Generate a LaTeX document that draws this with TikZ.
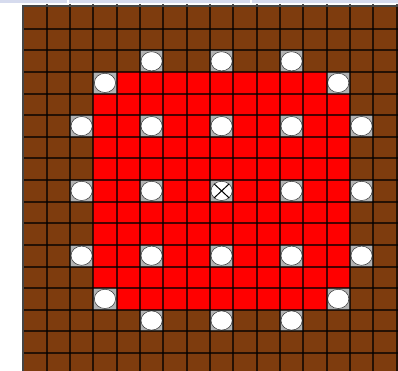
\documentclass[tikz,border=0pt]{standalone}
\usepackage{xcolor}
\definecolor{dirt}{RGB}{126,60,14}
\definecolor{barblue}{RGB}{214,219,238}
\definecolor{edge}{RGB}{70,70,70}

\begin{document}
\begin{tikzpicture}[x=1pt,y=-1pt,
        gridline/.style={draw=black,line width=2pt,opacity=0.7},
        holebg/.style={fill=gray!60},
        hole/.style={draw=black!80,line width=0.5pt,fill=white}]
        \useasboundingbox (0,0) rectangle (398,371);
        \fill[white] (0,0) rectangle (398,371);
        % strip above the board
        \fill[barblue] (0,0) rectangle (398,3.4);
        \fill[white] (67.3,0) rectangle (69,3.4);
        \fill[white] (250.2,0) rectangle (252,3.4);
        \begin{scope}
            \clip (22,5) rectangle (398,371);
            \begin{scope}[x=23.33pt,y=-21.6pt,shift={(23.3pt,-7.3pt)}]
                \fill[dirt] (0,0) rectangle (17,17);
                \fill[red] (3,3) rectangle (14,14);
                % holes
                \foreach \c/\r in {5/2,8/2,11/2,3/3,13/3,2/5,5/5,8/5,11/5,14/5,
                                   2/8,5/8,8/8,11/8,14/8,2/11,5/11,8/11,11/11,14/11,
                                   3/13,13/13,5/14,8/14,11/14} {
                    \fill[holebg] (\c,\r) rectangle (\c+1,\r+1);
                    \draw[hole] (\c+0.5,\r+0.5) ellipse [x radius=10.6pt,y radius=9.6pt];
                }
                \draw[line width=1pt] (8.5,8.5) +(-7.5pt,-7pt) -- +(7.5pt,7pt)
                                      (8.5,8.5) +(-7.5pt,7pt) -- +(7.5pt,-7pt);
                \foreach \i in {1,...,17} {
                    \draw[gridline] (\i,-0.5) -- (\i,17.5);
                    \draw[gridline] (-0.5,\i) -- (17.5,\i);
                }
            \end{scope}
        \end{scope}
        % board frame
        \draw[edge,line width=2pt] (22.6,371) -- (22.6,5.6) -- (398,5.6);
    \end{tikzpicture}
\end{document}
